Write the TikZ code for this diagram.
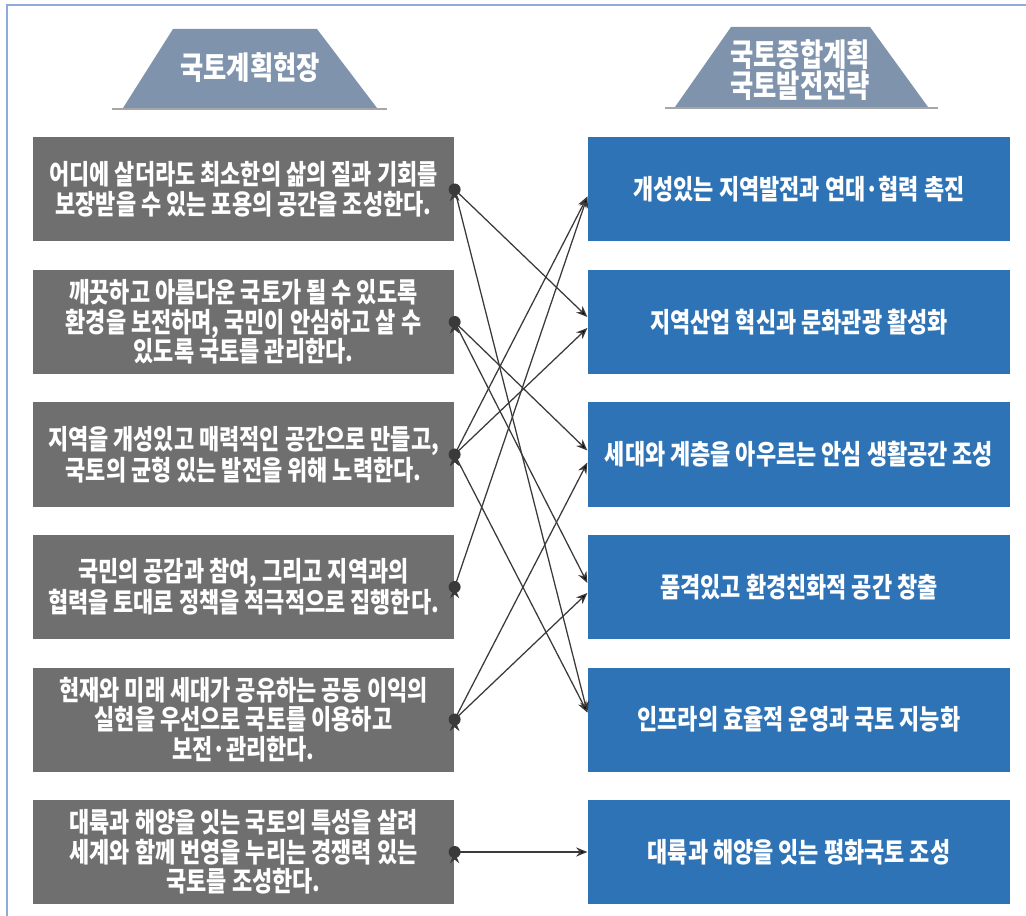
\documentclass[tikz,border=0pt]{standalone}
\usepackage{fontspec}
\usepackage{xcolor}
\usepackage{tikz}
\usetikzlibrary{arrows.meta,positioning,calc}
\newfontfamily\krfont[FakeStretch=0.8]{Noto Sans CJK KR}
\definecolor{boxgray}{RGB}{111,111,111}
\definecolor{boxblue}{RGB}{46,115,182}
\definecolor{trapblue}{RGB}{127,147,173}
\definecolor{framec}{RGB}{143,170,220}
\definecolor{linec}{RGB}{58,58,58}

\begin{document}
\begin{tikzpicture}[>={Stealth[length=8pt,width=6.5pt]},
node distance=3.3125cm,
line width=0.9pt]

\tikzstyle{lbox}=[rectangle, minimum width=10.525cm, minimum height=2.6cm, align=center,
fill=boxgray, draw=none, text=white, inner sep=0pt,
font=\krfont\bfseries\fontsize{19.5}{21}\selectfont]

\tikzstyle{rbox}=[lbox, fill=boxblue, minimum width=10.55cm]

\tikzstyle{title}=[align=center, text=white, inner sep=0pt,
font=\krfont\bfseries\fontsize{22.5}{22}\selectfont]

\tikzstyle{link}=[->, draw=linec]

\useasboundingbox (0,0) rectangle (25.65,-22.9);

%frame
\draw[framec,line width=1.4pt] (0.175,-22.9) |- (25.65,-0.125);

%titles
\fill[trapblue] (3.075,-2.7) -- (4.325,-0.725) -- (7.925,-0.725) -- (9.425,-2.7) -- cycle;
\draw[gray!70,line width=1.2pt] (2.8,-2.725) -- (9.675,-2.725);
\node[title] (tl) at (6.25,-1.7) {국토계획현장};

\fill[trapblue] (16.875,-2.675) -- (18.275,-0.675) -- (21.75,-0.675) -- (23.2,-2.675) -- cycle;
\draw[gray!70,line width=1.2pt] (16.625,-2.7) -- (23.45,-2.7);
\node[title] (tr) at (20.0,-1.75) {국토종합계획\\국토발전전략};

%left column
\node[lbox]
(l1) at (6.0875,-4.7375)
{어디에 살더라도 최소한의 삶의 질과 기회를\\보장받을 수 있는 포용의 공간을 조성한다.};

\node[lbox]
(l2) [below of=l1]
{깨끗하고 아름다운 국토가 될 수 있도록\\환경을 보전하며, 국민이 안심하고 살 수\\있도록 국토를 관리한다.};

\node[lbox]
(l3) [below of=l2]
{지역을 개성있고 매력적인 공간으로 만들고,\\국토의 균형 있는 발전을 위해 노력한다.};

\node[lbox]
(l4) [below of=l3]
{국민의 공감과 참여, 그리고 지역과의\\협력을 토대로 정책을 적극적으로 집행한다.};

\node[lbox]
(l5) [below of=l4]
{현재와 미래 세대가 공유하는 공동 이익의\\실현을 우선으로 국토를 이용하고\\보전·관리한다.};

\node[lbox]
(l6) [below of=l5]
{대륙과 해양을 잇는 국토의 특성을 살려\\세계와 함께 번영을 누리는 경쟁력 있는\\국토를 조성한다.};

%right column
\node[rbox]
(r1) at (19.975,-4.7375)
{개성있는 지역발전과 연대·협력 촉진};

\node[rbox]
(r2) [below of=r1]
{지역산업 혁신과 문화관광 활성화};

\node[rbox]
(r3) [below of=r2]
{세대와 계층을 아우르는 안심 생활공간 조성};

\node[rbox]
(r4) [below of=r3]
{품격있고 환경친화적 공간 창출};

\node[rbox]
(r5) [below of=r4]
{인프라의 효율적 운영과 국토 지능화};

\node[rbox]
(r6) [below of=r5]
{대륙과 해양을 잇는 평화국토 조성};

%links
\path[link] (l1.east) edge ([yshift=0.125cm]r2.west);
\path[link] (l1.east) edge ([yshift=0.175cm]r5.west);
\path[link] (l2.east) edge ([yshift=0.1cm]r3.west);
\path[link] (l2.east) edge ([yshift=0.1cm]r4.west);
\path[link] (l3.east) edge ([yshift=-0.175cm]r1.west);
\path[link] (l3.east) edge ([yshift=-0.15cm]r2.west);
\path[link] (l3.east) edge ([yshift=0.175cm]r5.west);
\path[link] (l4.east) edge ([yshift=-0.175cm]r1.west);
\path[link] (l5.east) edge ([yshift=-0.2cm]r3.west);
\path[link] (l5.east) edge ([yshift=-0.15cm]r4.west);
\path[link] (l6.east) edge (r6.west);

%dots
\fill[linec] (l1.east) circle (0.15cm);
\fill[linec] (l2.east) circle (0.15cm);
\fill[linec] (l3.east) circle (0.15cm);
\fill[linec] (l4.east) circle (0.15cm);
\fill[linec] (l5.east) circle (0.15cm);
\fill[linec] (l6.east) circle (0.15cm);

\end{tikzpicture}
\end{document}
